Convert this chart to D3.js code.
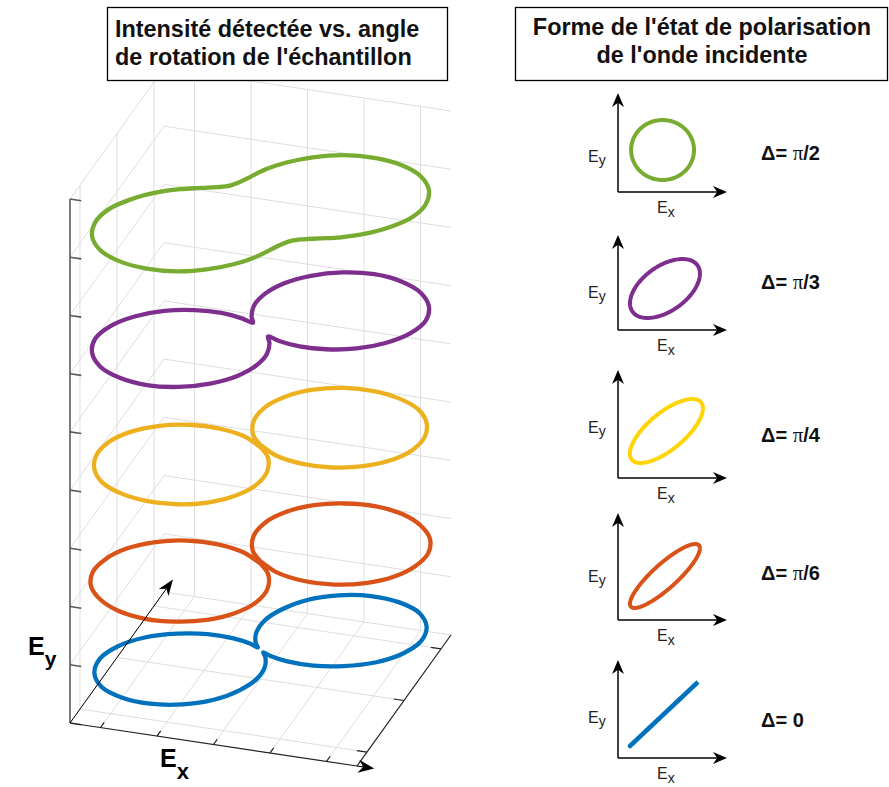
<!DOCTYPE html>
<html><head><meta charset="utf-8">
<script src="https://cdn.jsdelivr.net/npm/d3@7"></script>
<style>body{margin:0;background:#fff}svg{display:block}</style>
</head><body>
<svg id="c" width="889" height="787"></svg>
<script>
// ---------------- data ----------------
// 3D panel: polar radius (data units) vs angle from the lobe axis (deg), symmetric lobes
const phiDeg   = [0, 10, 20, 30, 40, 50, 60, 70, 80, 90];
const rBlue    = [1.50, 1.46, 1.36, 1.20, 1.00, 0.76, 0.53, 0.31, 0.14, 0.05];
const rOrange  = [1.51, 1.49, 1.42, 1.30, 1.15, 0.96, 0.74, 0.49, 0.22, -0.06];
const rYellow  = [1.49, 1.46, 1.39, 1.28, 1.13, 0.94, 0.72, 0.47, 0.21, -0.07];
const rPurple  = [1.51, 1.48, 1.40, 1.26, 1.08, 0.88, 0.66, 0.45, 0.26, 0.14];
const rGreen   = [1.51, 1.48, 1.40, 1.28, 1.12, 0.96, 0.81, 0.68, 0.60, 0.57];
const curveRadii  = [rBlue, rOrange, rYellow, rPurple, rGreen];
const curveLevels = [0.5, 2, 4, 6, 8];
const lobeAxisDeg = 45;
const xTicks = [-1, -0.5, 0, 0.5, 1];
const yTicks = [-1, 0, 1];
const zTicks = [0, 1, 2, 3, 4, 5, 6, 7, 8, 9];

// right panel: polarization states (top to bottom)
const deltaLabels = ["\u03c0/2", "\u03c0/3", "\u03c0/4", "\u03c0/6", "0"];
const deltaDeg    = [90, 60, 45, 30, 0];
const ampX        = [0.286, 0.318, 0.332, 0.318, 0.309];
const ampY        = [0.300, 0.295, 0.320, 0.320, 0.320];
const centerX     = [0.405, 0.427, 0.440, 0.427, 0.418];
const centerY     = [0.420, 0.415, 0.470, 0.440, 0.440];

const titleLeft  = ["Intensit\u00e9 d\u00e9tect\u00e9e vs. angle", "de rotation de l'\u00e9chantillon"];
const titleRight = ["Forme de l'\u00e9tat de polarisation", "de l'onde incidente"];

// ---------------- styles / layout ----------------
const curveColors = ["#0072BD", "#D95319", "#EDB120", "#7E2F8E", "#77AC30"];
const stateColors = ["#77AC30", "#7E2F8E", "#FFD400", "#D95319", "#0072BD"];
const FONT = "'Liberation Sans', Arial, Helvetica, sans-serif";
const gridColor = "#dedede";

const svg = d3.select("#c");

// 3D projection built from linear scales
const xs = d3.scaleLinear().domain([-1.27, 1.27]).range([0, 1]);
const ys = d3.scaleLinear().domain([-1.27, 1.27]).range([0, 1]);
const zs = d3.scaleLinear().domain([0, 9]).range([0, 524]);
const O = [70, 723], EX = [287, 43], EY = [94, -131];
function P(x, y, z) {
  const a = xs(x), b = ys(y);
  return [O[0] + EX[0] * a + EY[0] * b, O[1] + EX[1] * a + EY[1] * b - zs(z)];
}
const [xmin, xmax] = xs.domain(), [ymin, ymax] = ys.domain();
const zmax = zs.domain()[1];

const gGrid = svg.append("g").attr("stroke", gridColor).attr("stroke-width", 1).attr("fill", "none");
function seg(g, a, b) { g.append("line").attr("x1", a[0]).attr("y1", a[1]).attr("x2", b[0]).attr("y2", b[1]); }

// floor
xTicks.forEach(x => seg(gGrid, P(x, ymin, 0), P(x, ymax, 0)));
yTicks.forEach(y => seg(gGrid, P(xmin, y, 0), P(xmax, y, 0)));
// left wall
yTicks.forEach(y => seg(gGrid, P(xmin, y, 0), P(xmin, y, zmax)));
zTicks.forEach(z => seg(gGrid, P(xmin, ymin, z), P(xmin, ymax, z)));
// back wall
xTicks.forEach(x => seg(gGrid, P(x, ymax, 0), P(x, ymax, zmax)));
zTicks.forEach(z => seg(gGrid, P(xmin, ymax, z), P(xmax, ymax, z)));

// axes
const gAx = svg.append("g").attr("fill", "none");
const zAx = gAx.append("g").attr("stroke", "#5a5a5a").attr("stroke-width", 1.6);
seg(zAx, P(xmin, ymin, 0), P(xmin, ymin, zmax));
zTicks.forEach(z => seg(zAx, P(xmin, ymin, z), P(xmin + 0.1, ymin, z)));
const xyAx = gAx.append("g").attr("stroke", "#222").attr("stroke-width", 1.2);
seg(xyAx, P(xmin, ymin, 0), P(xmax, ymin, 0));
seg(xyAx, P(xmax, ymin, 0), P(xmax, ymax, 0));
xTicks.forEach(x => seg(xyAx, P(x, ymin, 0), P(x, ymin + 0.1, 0)));
yTicks.forEach(y => seg(xyAx, P(xmax, y, 0), P(xmax - 0.09, y, 0)));

// curves
const line3 = d3.line().curve(d3.curveCatmullRomClosed.alpha(0.5));
curveRadii.forEach((radii, i) => {
  const pts = [];
  for (let k = 0; k < 36; k++) {
    const phi = k * 10;
    let m = phi % 180; if (m > 90) m = 180 - m;
    const r = radii[phiDeg.indexOf(m)];
    const th = (lobeAxisDeg + phi) * Math.PI / 180;
    pts.push(P(r * Math.cos(th), r * Math.sin(th), curveLevels[i]));
  }
  svg.append("path").attr("d", line3(pts)).attr("fill", "none")
    .attr("stroke", curveColors[i]).attr("stroke-width", 4.3).attr("stroke-linejoin", "round");
});

// arrows
function arrowHead(g, tip, from, L, hw) {
  const dx = tip[0] - from[0], dy = tip[1] - from[1], n = Math.hypot(dx, dy);
  const ux = dx / n, uy = dy / n, px = -uy, py = ux;
  const b = [tip[0] - L * ux, tip[1] - L * uy];
  const pts = [tip, [b[0] + hw * px, b[1] + hw * py], [tip[0] - 0.7 * L * ux, tip[1] - 0.7 * L * uy], [b[0] - hw * px, b[1] - hw * py]];
  g.append("path").attr("d", "M" + pts.map(p => p.join(",")).join("L") + "Z").attr("fill", "#000").attr("stroke", "none");
}
const gArr = svg.append("g");
{
  const o = P(xmin, ymin, 0);
  const tx = P(xmin + 2.54 * 1.06, ymin, 0);
  seg(gArr.append("g").attr("stroke", "#000").attr("stroke-width", 1.2), P(xmax, ymin, 0), [tx[0] - 8, tx[1] - 1.2]);
  arrowHead(gArr, tx, o, 16, 6.5);
  const ty = P(xmin, ymin + 2.54 * 1.095, 0);
  seg(gArr.append("g").attr("stroke", "#000").attr("stroke-width", 1), o, [ty[0] - 5, ty[1] + 7]);
  arrowHead(gArr, ty, o, 16, 6);
}

// axis labels (3D)
const ey = svg.append("text").attr("x", 28).attr("y", 655).attr("font-family", FONT).attr("font-weight", "bold").attr("font-size", 25).attr("fill", "#000");
ey.append("tspan").text("E");
ey.append("tspan").attr("font-size", 21).attr("dy", 11).text("y");
const ex = svg.append("text").attr("x", 160).attr("y", 767).attr("font-family", FONT).attr("font-weight", "bold").attr("font-size", 25).attr("fill", "#000");
ex.append("tspan").text("E");
ex.append("tspan").attr("font-size", 22).attr("dy", 12).text("x");

// title boxes
function titleBox(x, y, w, h, lines, anchor, tx, baselines) {
  svg.append("rect").attr("x", x).attr("y", y).attr("width", w).attr("height", h)
    .attr("fill", "#fff").attr("stroke", "#000").attr("stroke-width", 1.3);
  lines.forEach((t, i) => svg.append("text").attr("x", tx).attr("y", baselines[i])
    .attr("text-anchor", anchor).attr("font-family", FONT).attr("font-weight", "bold")
    .attr("font-size", 23.4).attr("fill", "#111").text(t));
}
titleBox(107.5, 7.5, 340, 73, titleLeft, "start", 115, [37, 65]);
titleBox(515.5, 7.5, 372, 73, titleRight, "middle", 702, [35, 63]);

// right panel: polarization states
const panelOriginY = [192, 330, 478, 620, 758];
const panelTopY    = [93, 235, 370, 513, 660];
const eyLabelY     = [162, 298, 433, 582, 723];
const deltaLabelY  = [160, 289, 442, 580, 727];
const px0 = 618, pW = 110, pH = 100;
deltaLabels.forEach((lab, i) => {
  const oy = panelOriginY[i];
  const sx = d3.scaleLinear().domain([0, 1]).range([px0, px0 + pW]);
  const sy = d3.scaleLinear().domain([0, 1]).range([oy, oy - pH]);
  const g = svg.append("g");
  const axg = g.append("g").attr("stroke", "#000").attr("stroke-width", 1.5);
  seg(axg, [px0, oy], [px0, panelTopY[i] + 8]);
  seg(axg, [px0, oy], [px0 + 109 - 8, oy]);
  arrowHead(g, [px0, panelTopY[i]], [px0, oy], 14, 6);
  arrowHead(g, [px0 + 109, oy], [px0, oy], 14, 6);
  const d = deltaDeg[i] * Math.PI / 180;
  const ts = d3.range(0, 361, 3).map(t => t * Math.PI / 180);
  const pts = ts.map(t => [sx(centerX[i] + ampX[i] * Math.cos(t)), sy(centerY[i] + ampY[i] * Math.cos(t - d))]);
  g.append("path").attr("d", d3.line()(pts)).attr("fill", "none").attr("stroke", stateColors[i])
    .attr("stroke-width", deltaDeg[i] === 0 ? 4.6 : 4).attr("stroke-linecap", "butt").attr("stroke-linejoin", "round");
  const t1 = g.append("text").attr("x", 588).attr("y", eyLabelY[i]).attr("font-family", FONT).attr("font-size", 16).attr("fill", "#222");
  t1.append("tspan").text("E");
  t1.append("tspan").attr("font-size", 14).attr("dy", 3).text("y");
  const t2 = g.append("text").attr("x", 657).attr("y", oy + 21).attr("font-family", FONT).attr("font-size", 16).attr("fill", "#222");
  t2.append("tspan").text("E");
  t2.append("tspan").attr("font-size", 14).attr("dy", 4).text("x");
  const t3 = g.append("text").attr("x", 761).attr("y", deltaLabelY[i]).attr("font-family", FONT).attr("font-weight", "bold").attr("font-size", 20).attr("fill", "#111");
  t3.append("tspan").text("\u0394= ");
  if (lab.startsWith("\u03c0")) {
    t3.append("tspan").attr("font-family", "'Liberation Serif', 'DejaVu Serif', serif").attr("font-weight", "normal").attr("font-size", 21).text("\u03c0");
    t3.append("tspan").text(lab.slice(1));
  } else {
    t3.append("tspan").text(lab);
  }
});
</script>
</body></html>
